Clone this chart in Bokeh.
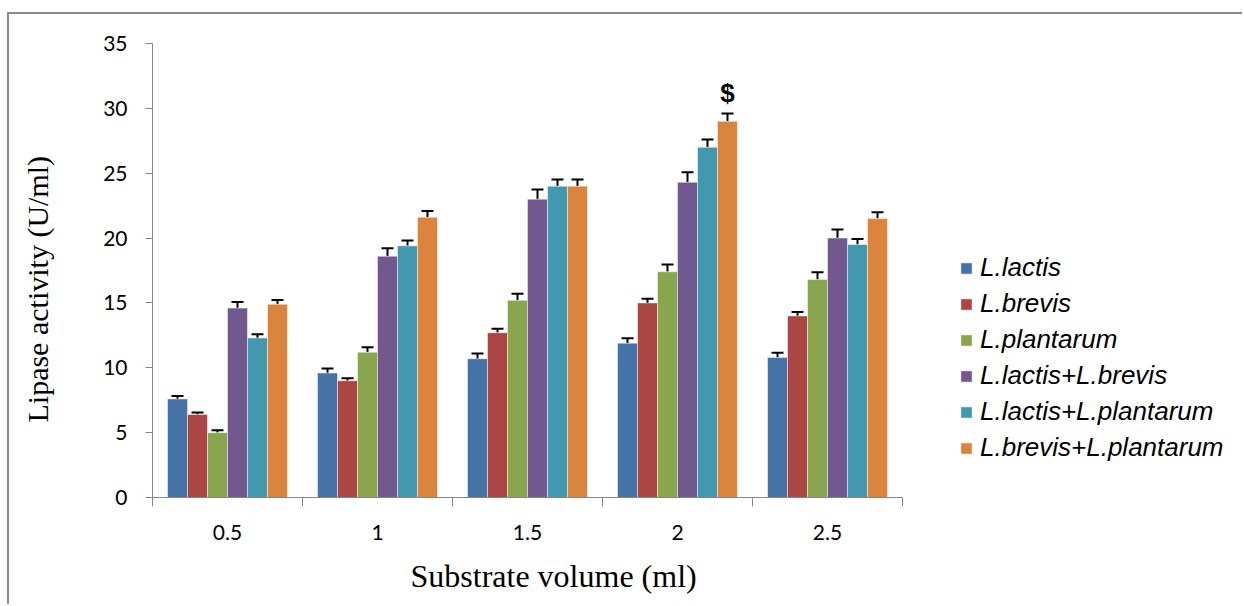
from bokeh.plotting import figure
from bokeh.models import (Range1d, FixedTicker, ColumnDataSource, Whisker,
                          TeeHead, Legend, LegendItem, Title)
from bokeh.core.properties import value
from bokeh.embed import file_html
from bokeh.resources import INLINE

volumes = ["0.5", "1", "1.5", "2", "2.5"]
series_names = ["L.lactis", "L.brevis", "L.plantarum", "L.lactis+L.brevis",
                "L.lactis+L.plantarum", "L.brevis+L.plantarum"]
colors = ["#4572A7", "#AA4643", "#89A54E", "#71588F", "#4198AF", "#DB843D"]

lactis = [7.6, 9.6, 10.7, 11.9, 10.8]
lactis_err = [0.23, 0.34, 0.41, 0.38, 0.36]
brevis = [6.4, 9.0, 12.7, 15.0, 14.0]
brevis_err = [0.15, 0.2, 0.31, 0.33, 0.31]
plantarum = [5.0, 11.2, 15.2, 17.4, 16.8]
plantarum_err = [0.18, 0.38, 0.51, 0.56, 0.56]
lactis_brevis = [14.6, 18.6, 23.0, 24.3, 20.0]
lactis_brevis_err = [0.48, 0.61, 0.74, 0.77, 0.66]
lactis_plantarum = [12.3, 19.4, 24.0, 27.0, 19.5]
lactis_plantarum_err = [0.28, 0.41, 0.51, 0.59, 0.43]
brevis_plantarum = [14.9, 21.6, 24.0, 29.0, 21.5]
brevis_plantarum_err = [0.33, 0.49, 0.51, 0.61, 0.49]

values = [lactis, brevis, plantarum, lactis_brevis, lactis_plantarum, brevis_plantarum]
errors = [lactis_err, brevis_err, plantarum_err, lactis_brevis_err,
          lactis_plantarum_err, brevis_plantarum_err]

marker_text = "$"
marker_volume = "2"
marker_series = 5

y_ticks = [0, 5, 10, 15, 20, 25, 30, 35]
x_title = "Substrate volume (ml)"
y_title = "Lipase  activity  (U/ml)"

# category slots: each volume occupies one unit on the x scale
n = len(volumes)
centers = [k + 0.5 for k in range(n)]
boundaries = [float(k) for k in range(n + 1)]

W, H = 1235, 592
p = figure(x_range=Range1d(0, 1092 / 150), y_range=Range1d(0, 35), width=W, height=H,
           output_backend="svg", toolbar_location=None,
           min_border_left=143, min_border_right=0,
           min_border_top=29, min_border_bottom=H - 484)
p.margin = (12, 0, 0, 7)
p.styles = {"border-left": "2px solid #8a8a8a", "border-top": "2px solid #8a8a8a"}
p.outline_line_color = None
p.xgrid.grid_line_color = None
p.ygrid.grid_line_color = None
p.background_fill_color = "white"
p.border_fill_color = "white"

bw = 0.1333
legend_items = []
for i, (name, vals, errs, col) in enumerate(zip(series_names, values, errors, colors)):
    off = (i - 2.5) * bw
    src = ColumnDataSource(dict(x=[c + off for c in centers], top=vals,
                                upper=[v + e for v, e in zip(vals, errs)]))
    r = p.vbar(x="x", top="top", width=bw, source=src,
               fill_color=col, line_color="white", line_width=0.8, line_alpha=0.6)
    legend_items.append(LegendItem(label=name, renderers=[r]))
    w = Whisker(base="x", upper="upper", lower="top",
                source=src, line_color="black", line_width=2,
                upper_head=TeeHead(size=12, line_width=2, line_color="black"),
                lower_head=None)
    p.add_layout(w)

mi = volumes.index(marker_volume)
msrc = ColumnDataSource(dict(x=[centers[mi] + (marker_series - 2.5) * bw],
                             y=[values[marker_series][mi] + errors[marker_series][mi]],
                             t=[marker_text]))
p.text(x="x", y="y", text="t",
       source=msrc, text_align="center", text_baseline="bottom", y_offset=-5,
       text_font=value("Liberation Sans"), text_font_style="bold",
       text_font_size="26px", text_color="black")

axis_col = "#868686"
for ax in (p.xaxis[0], p.yaxis[0]):
    ax.axis_line_color = axis_col
    ax.major_tick_line_color = axis_col
    ax.minor_tick_line_color = None
    ax.major_tick_in = 0
    ax.major_label_text_font = "Lato"
    ax.major_label_text_font_size = "21px"
    ax.major_label_text_color = "black"

ya = p.yaxis[0]
ya.ticker = FixedTicker(ticks=y_ticks)
ya.major_tick_out = 7
ya.major_label_standoff = 18
# trailing no-break spaces nudge the visible title down, as in the original
ya.axis_label = y_title + "\u00a0\u00a0\u00a0"
ya.axis_label_text_font = "Liberation Serif"
ya.axis_label_text_font_style = "normal"
ya.axis_label_text_font_size = "30px"
ya.axis_label_text_color = "black"
ya.axis_label_standoff = 46

xa = p.xaxis[0]
xa.ticker = FixedTicker(ticks=centers, minor_ticks=boundaries)
xa.major_label_overrides = {c: v for c, v in zip(centers, volumes)}
xa.bounds = (boundaries[0], boundaries[-1])
xa.major_tick_line_color = None
xa.major_tick_out = 9
xa.minor_tick_line_color = axis_col
xa.minor_tick_out = 9
xa.minor_tick_in = 0
xa.major_label_standoff = 18

p.add_layout(Title(text=x_title, align="left", offset=258, standoff=26,
                   text_font="Liberation Serif", text_font_style="normal",
                   text_font_size="32px", text_color="black"), "below")

legend = Legend(items=legend_items, location=(807, 34), orientation="vertical",
                label_text_font="Liberation Sans", label_text_font_style="italic",
                label_text_font_size="26px", label_text_color="black",
                glyph_width=14, glyph_height=14, label_standoff=7,
                spacing=5, padding=0, margin=0, border_line_color=None,
                background_fill_alpha=0)
p.add_layout(legend)

open("out.html", "w").write(file_html(p, INLINE))
